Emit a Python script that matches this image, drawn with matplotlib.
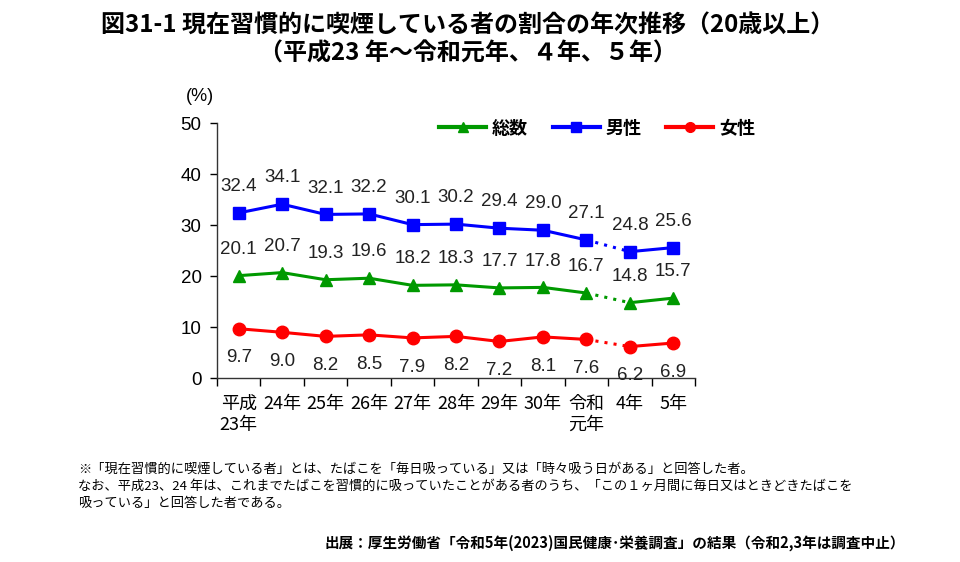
import matplotlib
matplotlib.use("Agg")
from matplotlib import pyplot as plt
import numpy as np

plt.rcParams['font.family'] = ['Noto Sans CJK JP', 'DejaVu Sans']

# data
years = ["平成\n23年", "24年", "25年", "26年", "27年", "28年", "29年", "30年", "令和\n元年", "4年", "5年"]
total = [20.1, 20.7, 19.3, 19.6, 18.2, 18.3, 17.7, 17.8, 16.7, 14.8, 15.7]
male = [32.4, 34.1, 32.1, 32.2, 30.1, 30.2, 29.4, 29.0, 27.1, 24.8, 25.6]
female = [9.7, 9.0, 8.2, 8.5, 7.9, 8.2, 7.2, 8.1, 7.6, 6.2, 6.9]
yticks = [0, 10, 20, 30, 40, 50]

title = "図31-1 現在習慣的に喫煙している者の割合の年次推移（20歳以上）\n（平成23 年～令和元年、４年、５年）"
note = ("※「現在習慣的に喫煙している者」とは、たばこを「毎日吸っている」又は「時々吸う日がある」と回答した者。\n"
        "なお、平成23、24 年は、これまでたばこを習慣的に吸っていたことがある者のうち、「この１ヶ月間に毎日又はときどきたばこを\n"
        "吸っている」と回答した者である。")
source = "出展：厚生労働省「令和5年(2023)国民健康･栄養調査」の結果（令和2,3年は調査中止）"

fig = plt.figure(figsize=(9.6, 5.62), dpi=100)
ax = fig.add_axes([0.226, 0.327, 0.498, 0.454])

x = np.arange(len(years))
series = [
    ("総数", total, "#009900", "^"),
    ("男性", male, "#0000FF", "s"),
    ("女性", female, "#FF0000", "o"),
]
num_font = ['Liberation Sans', 'DejaVu Sans']
for name, vals, col, mk in series:
    v = np.array(vals)
    ax.plot(x[:9], v[:9], color=col, lw=2.2, marker=mk, ms=9)
    ax.plot(x[9:], v[9:], color=col, lw=2.2, marker=mk, ms=9)
    ax.plot(x[8:10], v[8:10], color=col, lw=2.2, ls=(0, (1, 2)))
    ax.plot([], [], color=col, lw=3, marker=mk, ms=7, label=name)
    off = -21 if name == "女性" else 19
    for xi, vi in zip(x, v):
        ax.annotate(f"{vi:.1f}", (xi, vi), xytext=(0, off), textcoords="offset points",
                    ha="center", va="center", fontsize=13.5, family=num_font, color="#222222")

ax.set_xlim(-0.5, 10.5)
ax.set_ylim(0, 50)
ax.set_yticks(yticks)
ax.set_yticklabels([str(t) for t in yticks], family=num_font, fontsize=13.5)
ax.set_xticks(x)
ax.set_xticklabels(years, fontsize=13, linespacing=1.2, va="top")
ax.set_xticks(np.arange(-0.5, 11, 1), minor=True)
ax.tick_params(axis='x', which='major', length=0, pad=12)
ax.tick_params(axis='x', which='minor', length=6, width=1, direction='out')
ax.tick_params(axis='y', length=5, width=1, direction='out', pad=6)
for s in ['top', 'right']:
    ax.spines[s].set_visible(False)
for s in ['left', 'bottom']:
    ax.spines[s].set_linewidth(1)
    ax.spines[s].set_color("#333333")

fig.legend(loc='center left', bbox_to_anchor=(0.448, 0.772), ncol=3, frameon=False,
           handlelength=2.6, columnspacing=1.4, handletextpad=0.3, borderpad=0,
           prop={'size': 13, 'weight': 'bold'})

fig.text(0.208, 0.828, "(%)", family=num_font, fontsize=13, ha="center", va="center")
fig.text(0.487, 0.93, title, ha="center", va="center", fontsize=17.3, fontweight="bold", linespacing=1.2)
fig.text(0.081, 0.135, note, ha="left", va="center", fontsize=9.5, linespacing=1.45)
fig.text(0.943, 0.035, source, ha="right", va="center", fontsize=10.5, fontweight="bold")

fig.savefig("out.png", dpi=100, facecolor="white")
